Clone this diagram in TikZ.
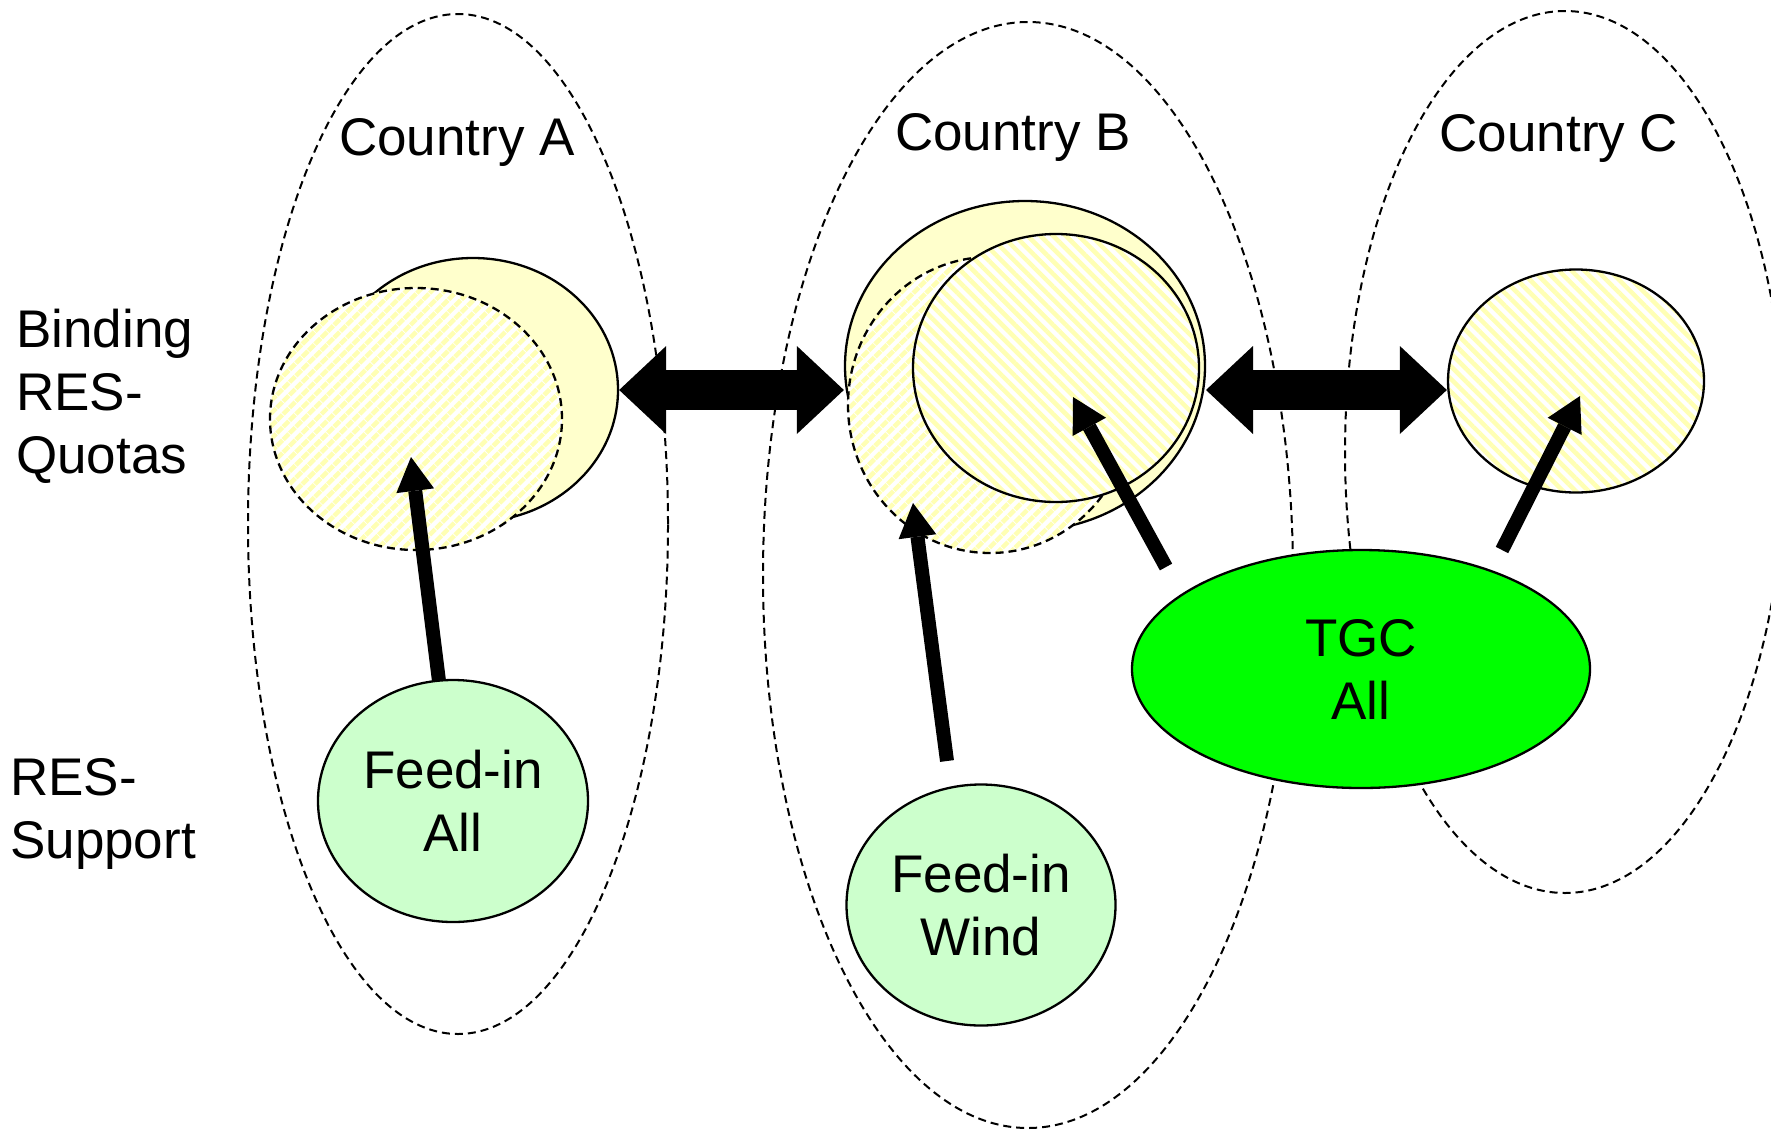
\documentclass[tikz,border=0pt]{standalone}
\usepackage{fontspec}
\setmainfont{Liberation Sans}
\usetikzlibrary{arrows.meta,patterns.meta,shapes.geometric}
\definecolor{lyellow}{HTML}{FFFFCC}
\definecolor{stripe}{HTML}{FFFFB4}
\definecolor{lgreen}{HTML}{CCFFCC}
\definecolor{tgcgreen}{HTML}{00FF00}
\begin{document}
\begin{tikzpicture}[x=1pt,y=-1pt,
  lbl/.style={font=\fontsize{53}{63}\selectfont},
  country/.style={draw, ellipse, inner sep=0pt, dash pattern=on 8pt off 5pt, line width=2pt},
  quota/.style={draw, ellipse, inner sep=0pt, line width=2.3pt},
  dquota/.style={quota, dash pattern=on 8pt off 5pt},
  solidfill/.style={fill=lyellow},
  hatchNE/.style={preaction={fill=white}, pattern={Lines[angle=45,distance=9pt,line width=4.5pt]}, pattern color=stripe},
  hatchNW/.style={preaction={fill=white}, pattern={Lines[angle=-45,distance=9pt,line width=4.5pt]}, pattern color=stripe},
  support/.style={draw, ellipse, inner sep=0pt, line width=2.3pt, align=center, lbl},
  dblarrow/.style={line width=40pt, {Triangle[length=47pt,width=88pt,line width=0pt]}-{Triangle[length=47pt,width=88pt,line width=0pt]}},
  sglarrow/.style={line width=14pt, -{Triangle[length=34pt,width=38pt,line width=0pt]}}
]
\useasboundingbox (0,0) rectangle (1771,1130);
\fill[white] (0,0) rectangle (1771,1130);

% country regions
\node[country, minimum width=420pt, minimum height=1020pt] (ctyA) at (458,524) {};
\node[country, minimum width=530pt, minimum height=1106pt] (ctyB) at (1028,575) {};
\node[country, minimum width=440pt, minimum height=882pt] (ctyC) at (1565,452) {};

% quota circles A
\node[quota, solidfill, minimum width=290pt, minimum height=264pt] (aback) at (473,390) {};
\node[dquota, hatchNE, minimum width=292pt, minimum height=262pt] (afront) at (416,419) {};

% quota circles B
\node[quota, solidfill, minimum width=360pt, minimum height=330pt] (bbig) at (1025,366) {};
\node[dquota, hatchNE, minimum width=284pt, minimum height=296pt] (bdash) at (990,405) {};
\node[quota, hatchNW, minimum width=286pt, minimum height=268pt] (binner) at (1056,368) {};

% quota circle C
\node[quota, hatchNW, minimum width=256pt, minimum height=223pt] (cC) at (1576,381) {};

% support schemes
\node[support, fill=lgreen, minimum width=270pt, minimum height=242pt] (fa) at (453,801) {Feed-in\\All};
\node[support, fill=lgreen, minimum width=269pt, minimum height=241pt] (fw) at (981,905) {Feed-in\\Wind};
\node[support, fill=tgcgreen, minimum width=458pt, minimum height=238pt] (tgc) at (1361,669) {TGC\\All};

% trade arrows
\coordinate (bcL) at (1206,390);
\draw[dblarrow] (aback.east) -- (aback.east -| bbig.west);
\draw[dblarrow] (bcL) -- (cC.west |- bcL);

% support arrows
\coordinate (tA) at (439,681);
\coordinate (hA) at (411,457);
\coordinate (tW) at (947,761);
\coordinate (hW) at (913,503);
\coordinate (tT1) at (1166,567);
\coordinate (hT1) at (1073,397);
\coordinate (tT2) at (1502,550);
\coordinate (hT2) at (1580,396);
\draw[sglarrow] (tA) -- (hA);
\draw[sglarrow] (tW) -- (hW);
\draw[sglarrow] (tT1) -- (hT1);
\draw[sglarrow] (tT2) -- (hT2);

% labels
\node[lbl, anchor=base, inner sep=0pt] (labA) at (457,155) {Country A};
\node[lbl, anchor=base, inner sep=0pt] (labB) at (1013,150) {Country B};
\node[lbl, anchor=base, inner sep=0pt] (labC) at (1559,151) {Country C};
\node[lbl, anchor=north west, inner sep=0pt, align=left] (labQ) at (16,309) {Binding\\RES-\\Quotas};
\node[lbl, anchor=north west, inner sep=0pt, align=left] (labS) at (10,758) {RES-\\Support};
\end{tikzpicture}
\end{document}
